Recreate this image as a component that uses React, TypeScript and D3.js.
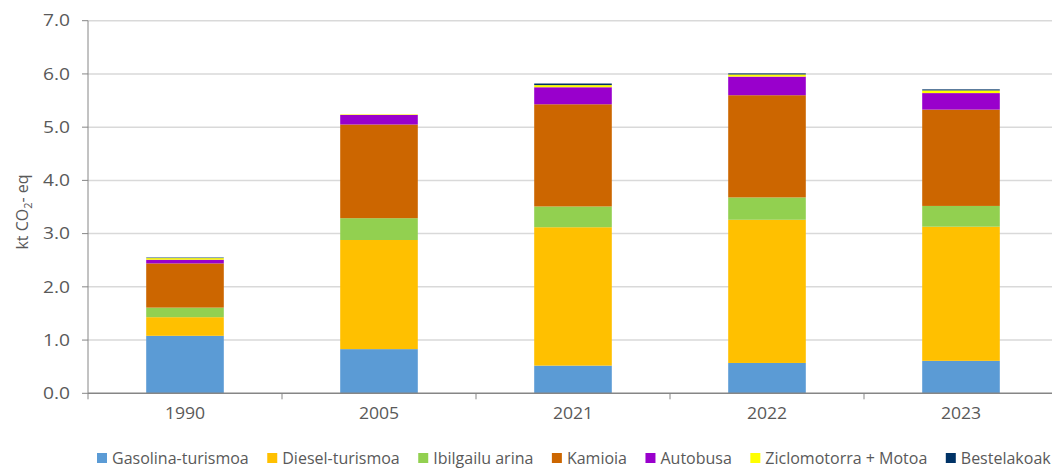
import React, { useLayoutEffect, useRef, useState } from "react";
import * as d3 from "d3";

// Transport emissions by vehicle type (kt CO2-eq)
const years = ["1990", "2005", "2021", "2022", "2023"];
const gasolinaTurismoa = [1.08, 0.83, 0.52, 0.57, 0.61];
const dieselTurismoa = [0.35, 2.05, 2.6, 2.69, 2.52];
const ibilgailuArina = [0.18, 0.41, 0.39, 0.42, 0.39];
const kamioia = [0.83, 1.76, 1.92, 1.92, 1.81];
const autobusa = [0.07, 0.18, 0.32, 0.35, 0.31];
const ziclomotorra = [0.03, 0.01, 0.04, 0.04, 0.05];
const bestelakoak = [0.01, 0.0, 0.03, 0.02, 0.02];

const seriesNames = [
  "Gasolina-turismoa",
  "Diesel-turismoa",
  "Ibilgailu arina",
  "Kamioia",
  "Autobusa",
  "Ziclomotorra + Motoa",
  "Bestelakoak",
];
const seriesValues = [
  gasolinaTurismoa,
  dieselTurismoa,
  ibilgailuArina,
  kamioia,
  autobusa,
  ziclomotorra,
  bestelakoak,
];
const seriesColors = [
  "#5B9BD5",
  "#FFC000",
  "#92D050",
  "#CC6600",
  "#9900CC",
  "#FFFF00",
  "#003366",
];
const yTicks = [0, 1, 2, 3, 4, 5, 6, 7];

const W = 1052;
const H = 468;
const FONT = "'Open Sans', Lato, sans-serif";
const TEXT = "#595959";

export default function App() {
  const margin = { left: 88, top: 20.7, bottom: 393.3 };
  const x = d3
    .scaleBand<string>()
    .domain(years)
    .range([margin.left, 1058])
    .paddingInner(0.6)
    .paddingOuter(0.3);
  const y = d3.scaleLinear().domain([0, 7]).range([margin.bottom, margin.top]);

  const table = years.map((yr, i) => {
    const row: Record<string, number | string> = { year: yr };
    seriesNames.forEach((n, k) => (row[n] = seriesValues[k][i]));
    return row;
  });
  const stacked = d3.stack<any>().keys(seriesNames)(table);

  // legend layout from measured label widths
  const legendRef = useRef<SVGGElement>(null);
  const [offsets, setOffsets] = useState<number[]>(
    seriesNames.map((_, i) => 97 + i * 150)
  );
  useLayoutEffect(() => {
    const g = legendRef.current;
    if (!g) return;
    const texts = Array.from(g.querySelectorAll("text")) as SVGTextElement[];
    const next: number[] = [];
    let cx = 97;
    texts.forEach((t) => {
      next.push(cx);
      cx += 10 + 5 + t.getComputedTextLength() + 18.5;
    });
    if (next.some((v, i) => Math.abs(v - offsets[i]) > 0.5)) setOffsets(next);
  }, [offsets]);

  // category boundary ticks on the x axis
  const tickXs = years.map((yr) => (x(yr) as number) - (x.step() - x.bandwidth()) / 2);
  tickXs[0] = margin.left;

  return (
    <svg
      width={W}
      height={H}
      style={{ position: "absolute", left: 0, top: 0, background: "#fff" }}
      fontFamily={FONT}
    >
      {/* gridlines */}
      {yTicks.slice(1).map((t) => (
        <line
          key={t}
          x1={margin.left}
          x2={W}
          y1={y(t)}
          y2={y(t)}
          stroke="#D9D9D9"
          strokeWidth={1.5}
        />
      ))}

      {/* stacked bars */}
      {stacked.map((layer, k) => (
        <g key={layer.key} fill={seriesColors[k]}>
          {layer.map((d, i) => (
            <rect
              key={i}
              x={x(years[i]) as number}
              width={x.bandwidth()}
              y={y(d[1])}
              height={Math.max(0, y(d[0]) - y(d[1]))}
            />
          ))}
        </g>
      ))}

      {/* y axis */}
      <line x1={margin.left} x2={margin.left} y1={margin.top} y2={margin.bottom} stroke="#868686" strokeWidth={1} />
      {yTicks.map((t) => (
        <g key={t}>
          <line x1={margin.left - 6} x2={margin.left} y1={y(t)} y2={y(t)} stroke="#868686" />
          <text
            transform={`translate(70,${y(t)}) scale(1.2,1)`}
            dy="0.36em"
            textAnchor="end"
            fontSize={16}
            fill={TEXT}
          >
            {d3.format(".1f")(t)}
          </text>
        </g>
      ))}

      {/* x axis */}
      <line x1={margin.left} x2={W} y1={margin.bottom} y2={margin.bottom} stroke="#868686" strokeWidth={1.5} />
      {tickXs.map((tx, i) => (
        <line key={i} x1={tx} x2={tx} y1={margin.bottom} y2={margin.bottom + 6} stroke="#868686" />
      ))}
      {years.map((yr) => (
        <text
          key={yr}
          transform={`translate(${(x(yr) as number) + x.bandwidth() / 2},419) scale(1.1,1)`}
          textAnchor="middle"
          fontSize={16}
          fill={TEXT}
        >
          {yr}
        </text>
      ))}

      {/* y axis title */}
      <text transform={`translate(28,212) rotate(-90)`} textAnchor="middle" fontSize={16} fill={TEXT}>
        kt CO
        <tspan fontSize={11} dy={4}>2</tspan>
        <tspan dy={-4}>- eq</tspan>
      </text>

      {/* legend */}
      <g ref={legendRef}>
        {seriesNames.map((n, k) => (
          <g key={n} transform={`translate(${offsets[k]},0)`}>
            <rect x={0} y={453} width={10} height={10} fill={seriesColors[k]} />
            <text x={15} y={463.5} fontSize={16} fill={TEXT}>
              {n}
            </text>
          </g>
        ))}
      </g>
    </svg>
  );
}
